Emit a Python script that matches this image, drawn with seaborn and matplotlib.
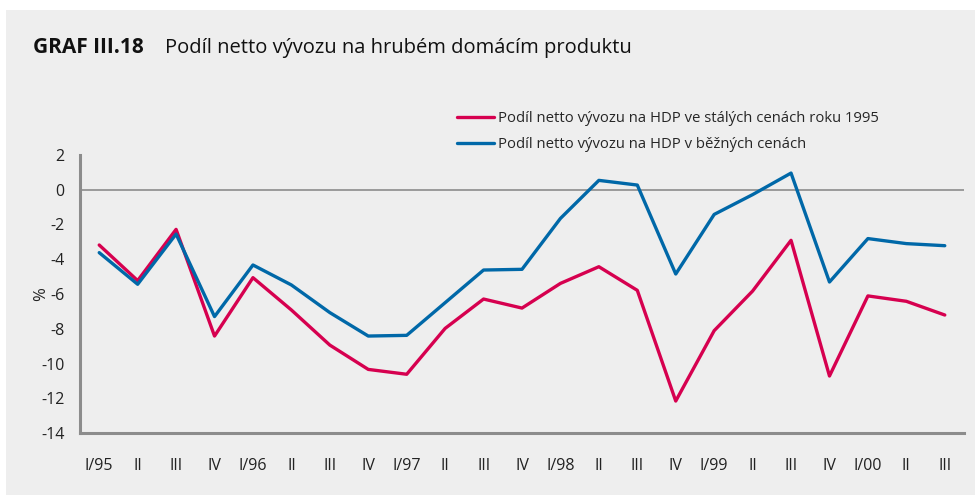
import matplotlib
matplotlib.use("Agg")
import matplotlib.pyplot as plt
import seaborn as sns
import pandas as pd
import numpy as np

# Data
kvartaly = ['I/95', 'II', 'III', 'IV', 'I/96', 'II', 'III', 'IV', 'I/97', 'II', 'III', 'IV',
            'I/98', 'II', 'III', 'IV', 'I/99', 'II', 'III', 'IV', 'I/00', 'II', 'III']
stale_ceny = [-3.18, -5.23, -2.28, -8.42, -5.06, -6.92, -8.94, -10.34, -10.62, -7.98, -6.29, -6.81,
              -5.39, -4.43, -5.79, -12.16, -8.11, -5.83, -2.91, -10.72, -6.11, -6.42, -7.21]
bezne_ceny = [-3.62, -5.44, -2.55, -7.30, -4.33, -5.48, -7.07, -8.42, -8.38, -6.50, -4.62, -4.58,
              -1.65, 0.54, 0.27, -4.85, -1.42, -0.28, 0.96, -5.31, -2.81, -3.10, -3.22]
nazvy = ['Podíl netto vývozu na HDP ve stálých cenách roku 1995',
         'Podíl netto vývozu na HDP v běžných cenách']

pozice = np.arange(len(kvartaly))
data = pd.DataFrame({
    'x': np.concatenate([pozice, pozice]),
    'hodnota': stale_ceny + bezne_ceny,
    'rada': [nazvy[0]] * len(kvartaly) + [nazvy[1]] * len(kvartaly),
})

# Styl
sns.set_style("white")
plt.rcParams['font.family'] = ['Open Sans', 'DejaVu Sans']
bg = '#eeeeee'
seda = '#8c8c8c'
text_barva = '#222222'

fig = plt.figure(figsize=(9.75, 4.95), dpi=100)
fig.patch.set_facecolor('white')
panel = plt.Rectangle((6 / 975, 0), 1, 1 - 10 / 495, transform=fig.transFigure,
                      facecolor=bg, edgecolor='none', zorder=-10)
fig.add_artist(panel)
ax = fig.add_axes([80 / 975, 1 - 433 / 495, 884 / 975, 278 / 495])
ax.set_zorder(5)
ax.set_facecolor(bg)

ax.axhline(0, color=seda, lw=1.2, zorder=1)
sns.lineplot(data=data, x='x', y='hodnota', hue='rada',
             palette=['#d6004f', '#0068a8'], linewidth=2.4, ax=ax, zorder=3)

ax.set_xlim(-0.5, len(kvartaly) - 0.5)
ax.set_ylim(-14, 2)
ax.set_yticks(range(-14, 3, 2))
ax.set_yticklabels([str(v) for v in range(-14, 3, 2)], fontsize=11.5, color=text_barva)
ax.set_xticks(np.arange(-0.5, len(kvartaly), 1))
ax.set_xticklabels([])
ax.set_xticks(pozice, minor=True)
ax.set_xticklabels(kvartaly, minor=True, fontsize=11.5, color=text_barva)
ax.tick_params(axis='x', which='major', length=5, width=2, color=seda, direction='out')
ax.tick_params(axis='x', which='minor', length=0, pad=18)
ax.tick_params(axis='y', length=5, width=2, color=seda, direction='out', pad=6)

for s in ['top', 'right']:
    ax.spines[s].set_visible(False)
for s in ['left', 'bottom']:
    ax.spines[s].set_color(seda)
    ax.spines[s].set_linewidth(2.2)

ax.set_xlabel('')
ax.set_ylabel('%', fontsize=12, color=text_barva)
ax.yaxis.set_label_coords(-0.035, 0.5)

leg = ax.legend(loc='lower left', bbox_to_anchor=(451 / 975, 1 - 158 / 495), bbox_transform=fig.transFigure,
                frameon=False, fontsize=10.7, handlelength=2.5, handletextpad=0.25,
                labelspacing=0.75, borderaxespad=0)
for line in leg.get_lines():
    line.set_linewidth(2.4)

fig.text(33 / 975, 1 - 53 / 495, 'GRAF III.18', fontsize=15, fontweight='bold', color='#111111')
fig.text(165 / 975, 1 - 53 / 495, 'Podíl netto vývozu na hrubém domácím produktu',
         fontsize=14.5, color='#111111')

plt.savefig('out.png', dpi=100, facecolor=fig.get_facecolor())
plt.close()
